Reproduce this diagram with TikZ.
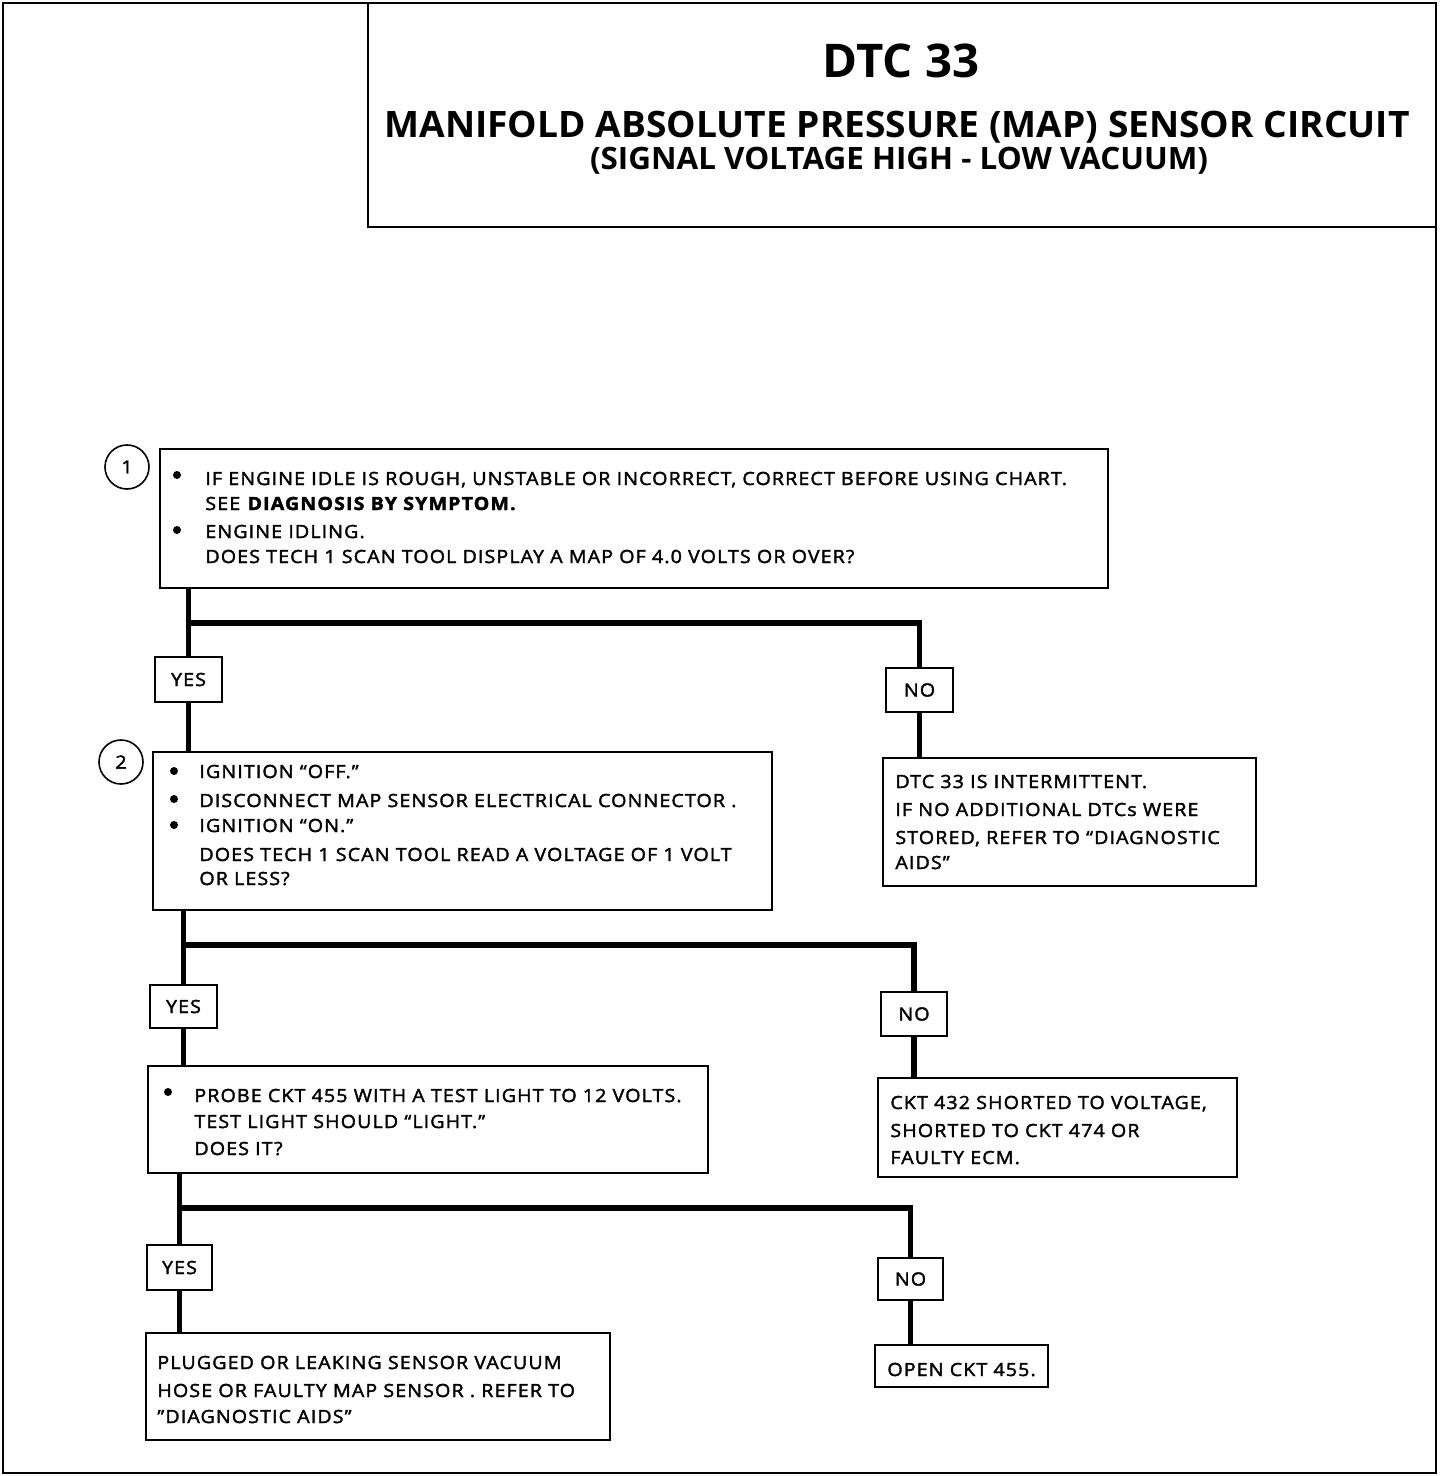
\documentclass[tikz,border=0pt]{standalone}
\usepackage{fontspec}
\setmainfont{Open Sans}[FakeStretch=1.08, LetterSpace=6, FakeBold=2]
\newfontfamily\titlefont{Open Sans}[FakeStretch=1.02]
\usetikzlibrary{fit}
\tikzset{
  frame/.style={draw, line width=1.2pt},
  box/.style={draw, line width=1pt, inner sep=0pt},
  lbl/.style={draw, line width=1pt, inner sep=0pt},
  lbltxt/.style={inner sep=0pt, font=\fontsize{9.1}{11}\selectfont},
  txt/.style={anchor=base west, inner sep=0pt, font=\fontsize{9.1}{11}\selectfont},
  bul/.style={circle, fill=black, inner sep=0pt, minimum size=4pt},
  num/.style={circle, draw, line width=0.8pt, inner sep=0pt, minimum size=22pt, font=\fontsize{9.1}{11}\selectfont},
  conn/.style={line width=2.6pt},
  ttl/.style={inner sep=0pt, anchor=base}
}
\begin{document}
\begin{tikzpicture}[x=0.5pt,y=-0.5pt]
\useasboundingbox (0,0) rectangle (1440,1476);
% frame and title box
\draw[frame] (3,3) rectangle (1436,1473);
\draw[frame] (368,3) -- (368,227) -- (1436,227);
\node[ttl, font=\titlefont\bfseries\fontsize{23.2}{26}\selectfont] (t1) at (901,78) {DTC 33};
\node[ttl, font=\titlefont\bfseries\fontsize{18.2}{22}\selectfont] (t2) at (897,138) {MANIFOLD ABSOLUTE PRESSURE (MAP) SENSOR CIRCUIT};
\node[ttl, font=\titlefont\bfseries\fontsize{15.4}{18}\selectfont] (t3) at (899,170) {(SIGNAL VOLTAGE HIGH - LOW VACUUM)};

% ---------- box 1
\coordinate (b1a) at (160,449); \coordinate (b1b) at (1108,588);
\node[box, fit=(b1a)(b1b)] (b1) {};
\node[num] (c1) at (127,467) {1};
\node[bul] (u1a) at (177,475) {};
\node[txt] (l1a) at (205,485) {IF ENGINE IDLE IS ROUGH, UNSTABLE OR INCORRECT, CORRECT BEFORE USING CHART.};
\node[txt] (l1b) at (205,510) {SEE \textbf{DIAGNOSIS BY SYMPTOM.}};
\node[bul] (u1b) at (177,530) {};
\node[txt] (l1c) at (205,538) {ENGINE IDLING.};
\node[txt] (l1d) at (205,563) {DOES TECH 1 SCAN TOOL DISPLAY A MAP OF 4.0 VOLTS OR OVER?};

% labels 1
\coordinate (y1a) at (155,657); \coordinate (y1b) at (222,702);
\node[lbl, fit=(y1a)(y1b)] (yes1) {};
\node[lbltxt] (yes1t) at (yes1.center) {YES};
\coordinate (n1a) at (886,668); \coordinate (n1b) at (953,712);
\node[lbl, fit=(n1a)(n1b)] (no1) {};
\node[lbltxt] (no1t) at (no1.center) {NO};

% ---------- box 2
\coordinate (b2a) at (153,752); \coordinate (b2b) at (772,910);
\node[box, fit=(b2a)(b2b)] (b2) {};
\node[num] (c2) at (121,762) {2};
\node[bul] (u2a) at (174,771) {};
\node[txt] (l2a) at (199,778) {IGNITION ``OFF.''};
\node[bul] (u2b) at (174,799) {};
\node[txt] (l2b) at (199,807) {DISCONNECT MAP SENSOR ELECTRICAL CONNECTOR .};
\node[bul] (u2c) at (174,825) {};
\node[txt] (l2c) at (199,832) {IGNITION ``ON.''};
\node[txt] (l2d) at (199,861) {DOES TECH 1 SCAN TOOL READ A VOLTAGE OF 1 VOLT};
\node[txt] (l2e) at (199,885) {OR LESS?};

% ---------- box 3
\coordinate (b3a) at (883,758); \coordinate (b3b) at (1256,886);
\node[box, fit=(b3a)(b3b)] (b3) {};
\node[txt] (l3a) at (895,788) {DTC 33 IS INTERMITTENT.};
\node[txt] (l3b) at (895,816) {IF NO ADDITIONAL DTCs WERE};
\node[txt] (l3c) at (895,844) {STORED, REFER TO ``DIAGNOSTIC};
\node[txt] (l3d) at (895,869) {AIDS''};

% labels 2
\coordinate (y2a) at (150,985); \coordinate (y2b) at (217,1028);
\node[lbl, fit=(y2a)(y2b)] (yes2) {};
\node[lbltxt] (yes2t) at (yes2.center) {YES};
\coordinate (n2a) at (881,992); \coordinate (n2b) at (947,1036);
\node[lbl, fit=(n2a)(n2b)] (no2) {};
\node[lbltxt] (no2t) at (no2.center) {NO};

% ---------- box 4
\coordinate (b4a) at (148,1066); \coordinate (b4b) at (708,1173);
\node[box, fit=(b4a)(b4b)] (b4) {};
\node[bul] (u4a) at (168,1092) {};
\node[txt] (l4a) at (194,1102) {PROBE CKT 455 WITH A TEST LIGHT TO 12 VOLTS.};
\node[txt] (l4b) at (194,1128) {TEST LIGHT SHOULD ``LIGHT.''};
\node[txt] (l4c) at (194,1155) {DOES IT?};

% ---------- box 5
\coordinate (b5a) at (878,1078); \coordinate (b5b) at (1237,1177);
\node[box, fit=(b5a)(b5b)] (b5) {};
\node[txt] (l5a) at (890,1109) {CKT 432 SHORTED TO VOLTAGE,};
\node[txt] (l5b) at (890,1137) {SHORTED TO CKT 474 OR};
\node[txt] (l5c) at (890,1164) {FAULTY ECM.};

% labels 3
\coordinate (y3a) at (147,1245); \coordinate (y3b) at (212,1290);
\node[lbl, fit=(y3a)(y3b)] (yes3) {};
\node[lbltxt] (yes3t) at (yes3.center) {YES};
\coordinate (n3a) at (878,1258); \coordinate (n3b) at (943,1300);
\node[lbl, fit=(n3a)(n3b)] (no3) {};
\node[lbltxt] (no3t) at (no3.center) {NO};

% ---------- box 6
\coordinate (b6a) at (146,1333); \coordinate (b6b) at (610,1440);
\node[box, fit=(b6a)(b6b)] (b6) {};
\node[txt] (l6a) at (157,1369) {PLUGGED OR LEAKING SENSOR VACUUM};
\node[txt] (l6b) at (157,1397) {HOSE OR FAULTY MAP SENSOR .  REFER TO};
\node[txt] (l6c) at (157,1423) {''DIAGNOSTIC AIDS''};

% ---------- box 7
\coordinate (b7a) at (875,1345); \coordinate (b7b) at (1048,1387);
\node[box, fit=(b7a)(b7b)] (b7) {};
\node[txt] (l7a) at (887,1376) {OPEN CKT 455.};

% ---------- connectors
\coordinate (h1) at (0,623);
\coordinate (h2) at (0,945);
\coordinate (h3) at (0,1208);
\draw[conn] (b1.south -| yes1) -- (yes1.north);
\draw[conn] (yes1 |- h1) -| (no1.north);
\draw[conn] (yes1.south) -- (b2.north -| yes1);
\draw[conn] (no1.south) -- (b3.north -| no1);

\draw[conn] (b2.south -| yes2) -- (yes2.north);
\draw[conn] (yes2 |- h2) -| (no2.north);
\draw[conn] (yes2.south) -- (b4.north -| yes2);
\draw[conn] (no2.south) -- (b5.north -| no2);

\draw[conn] (b4.south -| yes3) -- (yes3.north);
\draw[conn] (yes3 |- h3) -| (no3.north);
\draw[conn] (yes3.south) -- (b6.north -| yes3);
\draw[conn] (no3.south) -- (b7.north -| no3);
\end{tikzpicture}
\end{document}
